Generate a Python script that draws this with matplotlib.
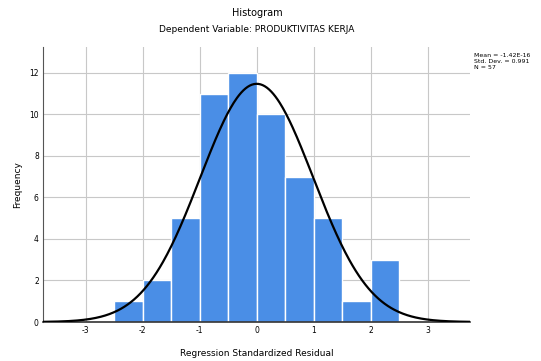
import matplotlib
matplotlib.use("Agg")
import matplotlib.pyplot as plt
import numpy as np

bin_edges = [-2.5, -2.0, -1.5, -1.0, -0.5, 0.0, 0.5, 1.0, 1.5, 2.0, 2.5]
frecuencias = [1, 2, 5, 11, 12, 10, 7, 5, 1, 3]
media = -1.42e-16
desv = 0.991
n = 57
x_ticks = [-3, -2, -1, 0, 1, 2, 3]
y_ticks = [0, 2, 4, 6, 8, 10, 12]

fig = plt.figure(figsize=(5.41, 3.61), dpi=100)
ax = fig.add_axes([0.0795, 0.108, 0.79, 0.762])

# Barras del histograma
anchos = np.diff(bin_edges)
ax.bar(bin_edges[:-1], frecuencias, width=anchos, align='edge',
       color='#4a8ee6', edgecolor='white', linewidth=1.0, zorder=2)

# Curva normal
xs = np.linspace(-3.75, 3.75, 400)
ancho_bin = anchos[0]
ys = n * ancho_bin / (desv * np.sqrt(2 * np.pi)) * np.exp(-0.5 * ((xs - media) / desv) ** 2)
ax.plot(xs, ys, color='black', lw=1.6, zorder=3)

# Ejes y cuadrícula
ax.set_xlim(-3.75, 3.75)
ax.set_ylim(0, 13.25)
ax.set_xticks(x_ticks)
ax.set_xticklabels([str(t) for t in x_ticks])
ax.set_yticks(y_ticks)
ax.tick_params(labelsize=5.5, length=0, pad=3)
ax.grid(True, color='#c8c8c8', lw=0.8, zorder=0)
ax.set_axisbelow(True)
for lado in ['top', 'right']:
    ax.spines[lado].set_visible(False)
ax.spines['left'].set_color('#555555')
ax.spines['bottom'].set_color('#333333')
ax.spines['bottom'].set_linewidth(1.2)

ax.set_xlabel('Regression Standardized Residual', fontsize=6.5, labelpad=10)
ax.set_ylabel('Frequency', fontsize=6.5, labelpad=5)

fig.text(0.475, 0.965, 'Histogram', ha='center', va='center', fontsize=7)
fig.text(0.475, 0.918, 'Dependent Variable: PRODUKTIVITAS KERJA', ha='center', va='center', fontsize=6.5)

info = f"Mean = {media:.2E}\nStd. Dev. = {desv}\nN = {n}"
fig.text(0.877, 0.83, info, ha='left', va='center', fontsize=4.5, linespacing=1.2)

plt.savefig('out.png', dpi=100)
